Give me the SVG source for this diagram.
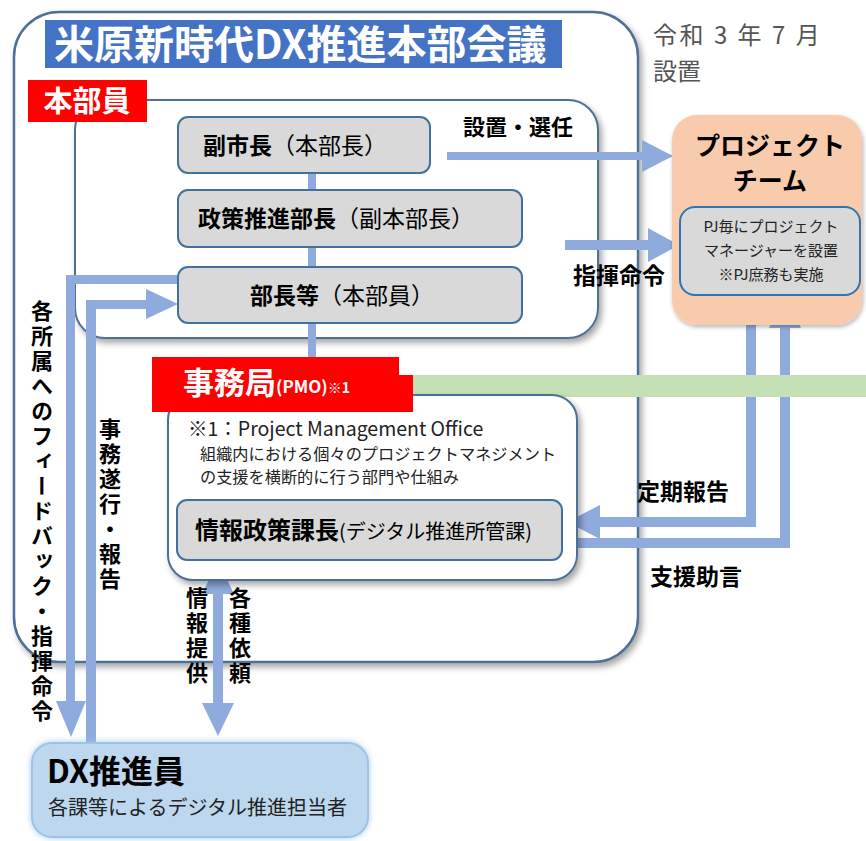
<svg xmlns="http://www.w3.org/2000/svg" width="866" height="841" viewBox="0 0 866 841">
<defs>
<filter id="sh" x="-10%" y="-10%" width="120%" height="120%">
<feDropShadow dx="3" dy="4" stdDeviation="3" flood-color="#000" flood-opacity="0.35"/>
</filter>
<filter id="sh2" x="-10%" y="-10%" width="120%" height="130%">
<feDropShadow dx="1" dy="2" stdDeviation="2" flood-color="#000" flood-opacity="0.3"/>
</filter>
<filter id="glow" x="-10%" y="-20%" width="120%" height="140%">
<feDropShadow dx="0" dy="0" stdDeviation="3" flood-color="#9dc3e6" flood-opacity="0.9"/>
</filter>
</defs>
<style>
text{font-family:"Noto Sans CJK JP","Noto Sans",sans-serif;fill:#000}
.box{fill:#d9d9d9;stroke:#41719c;stroke-width:2}
.ar{fill:#8faadc;stroke:none}
.b{font-weight:bold}
.w{fill:#fff}
.g{fill:#222}
.v{writing-mode:vertical-rl;font-weight:bold;font-size:22px;letter-spacing:3px}
</style>
<rect width="866" height="841" fill="#fff"/>

<g id="honbu-kaigi">
<rect x="14" y="12" width="624" height="650" rx="45" fill="#fff" stroke="#4f6f96" stroke-width="2.5" filter="url(#sh)"/>
<rect x="45" y="20" width="517" height="48" fill="#4472c4"/>
<text x="54" y="59" class="b w" font-size="40">米原新時代DX推進本部会議</text>
</g>

<g id="date">
<text x="653" y="44" font-size="24" letter-spacing="2.5" style="fill:#555">令和 3 年 7 月</text>
<text x="653" y="80" font-size="24" style="fill:#555">設置</text>
</g>

<g id="honbuin">
<rect x="75" y="100" width="523" height="238" rx="30" fill="#fff" stroke="#4f6f96" stroke-width="2" filter="url(#sh)"/>
<rect x="28" y="80" width="119" height="42" fill="#ff0000"/>
<text x="87" y="112" class="b w" font-size="29" text-anchor="middle">本部員</text>
</g>

<g id="connectors">
<rect class="ar" x="308" y="172" width="8" height="186"/>
<path class="ar" d="M447 152 H642 V140 L673 156 L642 172 V160 H447 Z"/>
<path class="ar" d="M565 240 H648 V228 L679 245 L648 262 V250 H565 Z"/>
<path class="ar" d="M746 296 H756 V527 H600 V539 L567 522 L600 505 V517 H746 Z"/>
<path class="ar" d="M565 538 H780 V328 H769 L785 295 L801 328 H790 V548 H565 Z"/>
<path class="ar" d="M178 275 V284 H75 V701 H86 L71 737 L56 701 H66 V275 Z"/>
<path class="ar" d="M86 745 V300 H146 V289 L178 304 L146 319 V309 H96 V745 Z"/>
<path class="ar" d="M218 561 L234 594 H223 V703 H234 L218 736 L202 703 H213 V594 H202 Z"/>
</g>

<g id="fukushicho">
<rect class="box" x="178" y="117" width="252" height="56" rx="10"/>
<text x="203" y="154" font-size="23"><tspan class="b">副市長</tspan>（本部長）</text>
</g>
<g id="seisaku-buchou">
<rect class="box" x="178" y="190" width="344" height="57" rx="10"/>
<text x="198" y="227" font-size="23"><tspan class="b">政策推進部長</tspan>（副本部長）</text>
</g>
<g id="buchou">
<rect class="box" x="178" y="267" width="344" height="56" rx="10"/>
<text x="250" y="304" font-size="23"><tspan class="b">部長等</tspan>（本部員）</text>
</g>

<g id="green-bar">
<rect x="399" y="375" width="467" height="22" fill="#c5e0b4"/>
</g>

<g id="jimukyoku">
<rect x="168" y="395" width="409" height="185" rx="25" fill="#fff" stroke="#4f6f96" stroke-width="2" filter="url(#sh)"/>
<rect x="152" y="357" width="247" height="55" fill="#ff0000"/>
<rect x="399" y="375" width="14" height="37" fill="#ff0000"/>
<text x="183" y="394" class="w b" font-size="31">事務局<tspan font-size="17" dy="-1">(PMO)</tspan><tspan font-size="14">※1</tspan></text>
<text x="188" y="436" font-size="19.5" class="g">※1：Project Management Office</text>
<text x="200" y="460" font-size="16.2" class="g">組織内における個々のプロジェクトマネジメント</text>
<text x="200" y="483" font-size="16.2" class="g">の支援を横断的に行う部門や仕組み</text>
</g>

<g id="jouhou-seisaku">
<rect class="box" x="177" y="500" width="385" height="60" rx="10"/>
<text x="195" y="539" font-size="24"><tspan class="b">情報政策課長</tspan><tspan font-size="20">(デジタル推進所管課)</tspan></text>
</g>

<g id="project-team">
<rect x="672" y="115" width="190" height="210" rx="25" fill="#f8cbad" filter="url(#sh2)"/>
<text x="770" y="155" class="b" font-size="25" text-anchor="middle">プロジェクト</text>
<text x="770" y="190" class="b" font-size="25" text-anchor="middle">チーム</text>
<rect x="680" y="207" width="180" height="88" rx="15" fill="#d9d9d9" stroke="#2e75b6" stroke-width="2"/>
<text x="771" y="232" font-size="15" text-anchor="middle" class="g">PJ毎にプロジェクト</text>
<text x="771" y="256" font-size="15" text-anchor="middle" class="g">マネージャーを設置</text>
<text x="771" y="280" font-size="15" text-anchor="middle" class="g">※PJ庶務も実施</text>
</g>

<g id="dx-suishinin">
<rect x="32" y="743" width="336" height="94" rx="20" fill="#bdd7ee" stroke="#9dc3e6" stroke-width="2" filter="url(#glow)"/>
<text x="47" y="783" class="b" font-size="32">DX推進員</text>
<text x="48" y="815" font-size="20" class="g">各課等によるデジタル推進担当者</text>
</g>

<g id="labels">
<text x="463" y="135" class="b" font-size="22">設置・選任</text>
<text x="573" y="284" class="b" font-size="23">指揮命令</text>
<text x="637" y="500" class="b" font-size="23">定期報告</text>
<text x="650" y="585" class="b" font-size="23">支援助言</text>
<text x="42" y="300" class="v">各所属へのフィードバック・指揮命令</text>
<text x="110" y="418" class="v">事務遂行・報告</text>
<text x="197" y="587" class="v">情報提供</text>
<text x="240" y="587" class="v">各種依頼</text>
</g>
</svg>
